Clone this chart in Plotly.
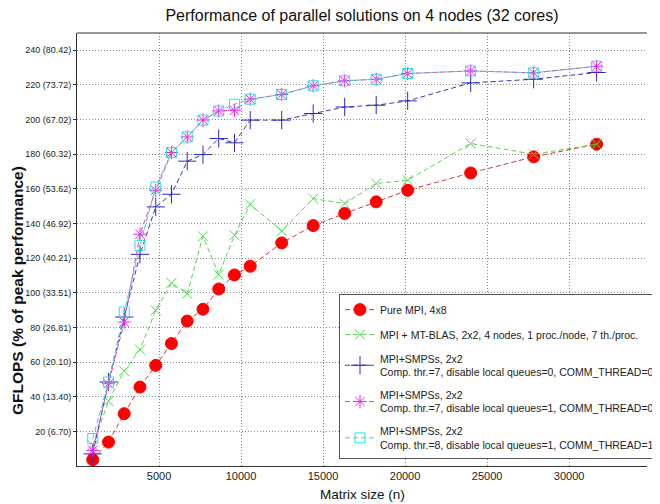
import plotly.graph_objects as go

# Matrix sizes (n)
matrix_size = [960, 1920, 2880, 3840, 4800, 5760, 6720, 7680, 8640, 9600, 10560,
               12480, 14400, 16320, 18240, 20160, 24000, 27840, 31680]

pure_mpi = [3.6, 13.8, 30.2, 45.6, 58.1, 70.7, 83.7, 90.5, 102.2, 110.3, 115.3,
            128.8, 138.8, 145.8, 152.5, 159.2, 169.2, 178.5, 185.8]
mt_blas = [12.0, 37.5, 54.8, 67.2, 89.9, 105.7, 99.5, 132.6, 110.5, 133.2, 151.1,
           135.7, 154.4, 151.5, 163.1, 165.0, 186.2, 180.0, 185.8]
smpss_a = [7.0, 48.5, 86.0, 122.2, 149.6, 156.9, 176.0, 179.8, 189.1, 186.6, 199.7,
           199.7, 203.5, 207.3, 208.3, 210.8, 221.2, 223.3, 227.2]
smpss_b = [9.0, 47.5, 83.1, 133.8, 159.2, 181.0, 190.0, 199.7, 205.0, 205.4, 211.8,
           214.5, 219.5, 222.4, 223.3, 226.6, 228.1, 227.0, 230.8]
smpss_c = [15.8, 48.5, 88.9, 127.4, 161.1, 181.0, 190.0, 199.7, 205.0, 208.9, 211.8,
           214.5, 219.5, 222.4, 223.3, 226.6, 228.1, 227.0, 230.8]

series_names = [
    "Pure MPI, 4x8",
    "MPI + MT-BLAS, 2x2, 4 nodes, 1 proc./node, 7 th./proc.",
    "MPI+SMPSs, 2x2<br>Comp. thr.=7, disable local queues=0, COMM_THREAD=0",
    "MPI+SMPSs, 2x2<br>Comp. thr.=7, disable local queues=1, COMM_THREAD=0",
    "MPI+SMPSs, 2x2<br>Comp. thr.=8, disable local queues=1, COMM_THREAD=1",
]

y_tickvals = [20, 40, 60, 80, 100, 120, 140, 160, 180, 200, 220, 240]
y_ticktext = ["20 (6.70)", "40 (13.40)", "60 (20.10)", "80 (26.81)", "100 (33.51)",
              "120 (40.21)", "140 (46.92)", "160 (53.62)", "180 (60.32)",
              "200 (67.02)", "220 (73.72)", "240 (80.42)"]
x_tickvals = [5000, 10000, 15000, 20000, 25000, 30000]
x_ticktext = ["5000", "10000", "15000", "20000", "25000", "30000"]

SANS = "Liberation Sans, Arial, Helvetica, sans-serif"

styles = [
    dict(color="#ff0000", line="#d03a3a", symbol="circle", size=12),
    dict(color="#3ee03e", line="#4fd84f", symbol="x-thin-open", size=10),
    dict(color="#2a2ab8", line="#3a3ab0", symbol="cross-thin-open", size=13),
    dict(color="#ee22ee", line="#d040d0", symbol="asterisk-open", size=11),
    dict(color="#33dddd", line="#44cccc", symbol="square-open", size=10),
]
data = [pure_mpi, mt_blas, smpss_a, smpss_b, smpss_c]

fig = go.Figure()
for i, (name, ys, st) in enumerate(zip(series_names, data, styles)):
    fig.add_trace(go.Scatter(
        x=matrix_size, y=ys, name=name, mode="lines+markers",
        legendgroup=f"g{i}",
        line=dict(color=st["line"], width=1, dash="5px,3px"),
        marker=dict(symbol=st["symbol"], size=st["size"], color=st["color"],
                    line=dict(color=st["color"], width=1)),
    ))

fig.add_shape(type="line", xref="paper", yref="paper", x0=0, x1=1, y0=1, y1=1,
              line=dict(color="#333333", width=1))

fig.add_annotation(text="<b>GFLOPS (% of peak performance)</b>", textangle=-90,
                   xref="paper", yref="paper", x=-0.1046, y=0.405,
                   xanchor="center", yanchor="middle", showarrow=False,
                   font=dict(family=SANS, size=15.5, color="#111111"))
fig.add_annotation(text="Matrix size (n)",
                   xref="paper", yref="paper", x=0.5, y=-0.065,
                   xanchor="center", yanchor="middle", showarrow=False,
                   font=dict(family=SANS, size=13.5, color="#111111"))

# The page adds an 8px body margin, so the figure is sized to fit the window.
fig.update_layout(
    width=652, height=496,
    margin=dict(l=69, r=0, t=25, b=38),
    paper_bgcolor="white", plot_bgcolor="white",
    title=dict(text="Performance of parallel solutions on 4 nodes (32 cores)",
               x=0.5, xref="paper", xanchor="center", y=0.986, yref="container",
               yanchor="middle",
               font=dict(family=SANS, size=16, color="#111111")),
    xaxis=dict(range=[0, 34750], tickvals=x_tickvals, ticktext=x_ticktext,
               automargin=False,
               showgrid=True, gridcolor="#888888", griddash="1px,2px", gridwidth=1,
               showline=True, linecolor="#333333", linewidth=1, zeroline=False,
               ticks="", tickfont=dict(family=SANS, size=11, color="#222222")),
    yaxis=dict(range=[0, 250], tickvals=y_tickvals, ticktext=y_ticktext,
               automargin=False,
               showgrid=True, gridcolor="#888888", griddash="1px,2px", gridwidth=1,
               showline=True, linecolor="#333333", linewidth=1, zeroline=False,
               ticks="outside", ticklen=3, tickcolor="#333333",
               tickfont=dict(family=SANS, size=9, color="#222222")),
    legend=dict(x=0.4597, y=0.397, xanchor="left", yanchor="top",
                bgcolor="white", bordercolor="#555555", borderwidth=1,
                font=dict(family=SANS, size=10.5, color="#222222"),
                tracegroupgap=6, itemwidth=30),
    showlegend=True,
)

fig.write_html("out.html")
